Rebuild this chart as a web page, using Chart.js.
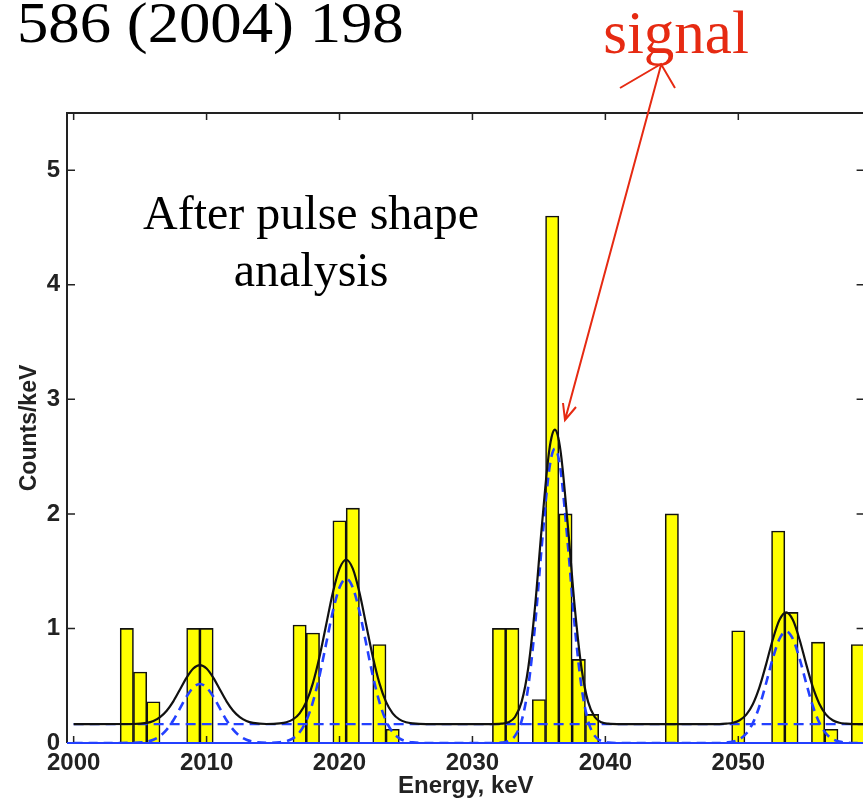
<!DOCTYPE html>
<html>
<head>
<meta charset="utf-8">
<script src="https://cdn.jsdelivr.net/npm/chart.js@4.4.1/dist/chart.umd.min.js"></script>
<style>
  html, body { margin: 0; padding: 0; background: #fff; overflow: hidden; }
  #wrap { position: relative; width: 863px; height: 804px; overflow: hidden; }
  canvas { display: block; }
</style>
</head>
<body>
<div id="wrap"><canvas id="spectrum" width="870" height="804"></canvas></div>
<script>
// histogram, 1 keV bins (centres), counts/keV
const binCenters = [2004, 2005, 2006, 2009, 2010, 2017, 2018, 2020, 2021, 2023, 2024,
  2032, 2033, 2035, 2036, 2037, 2038, 2039, 2045, 2050, 2053, 2054, 2056, 2057, 2059];
const binCounts = [1.0, 0.62, 0.36, 1.0, 1.0, 1.03, 0.96, 1.94, 2.05, 0.86, 0.12,
  1.0, 1.0, 0.38, 4.6, 2.0, 0.73, 0.25, 2.0, 0.98, 1.85, 1.14, 0.88, 0.12, 0.86];

// fit curves
const fitEnergy = [2000, 2004.5, 2005.5, 2006, 2006.5, 2007, 2007.5, 2008, 2008.5, 2009, 2009.5,
  2010, 2010.5, 2011, 2011.5, 2012, 2012.5, 2013, 2013.5, 2014.5, 2015.5, 2016, 2016.5, 2017,
  2017.5, 2018, 2018.5, 2019, 2019.5, 2020, 2020.5, 2021, 2021.5, 2022, 2022.5, 2023, 2023.5,
  2024, 2024.5, 2025, 2025.5, 2026.5, 2031.2, 2032.2, 2032.7, 2033.2, 2033.7, 2034.2, 2034.7,
  2035.2, 2035.7, 2035.95, 2036.2, 2036.45, 2036.7, 2037.2, 2037.7, 2038.2, 2038.7, 2039.2,
  2039.7, 2040.2, 2041.2, 2048.6, 2049.1, 2049.6, 2050.1, 2050.6, 2051.1, 2051.6, 2052.1,
  2052.6, 2053.1, 2053.6, 2054.1, 2054.6, 2055.1, 2055.6, 2056.1, 2056.6, 2057.1, 2057.6,
  2058.1, 2058.6, 2060];
// total fit (black)
const fitTotal = [0.165, 0.166, 0.176, 0.193, 0.226, 0.282, 0.364, 0.467, 0.571, 0.650, 0.680,
  0.650, 0.571, 0.467, 0.364, 0.282, 0.226, 0.193, 0.176, 0.166, 0.171, 0.181, 0.206, 0.259,
  0.359, 0.523, 0.755, 1.035, 1.314, 1.522, 1.600, 1.522, 1.314, 1.035, 0.755, 0.523, 0.359,
  0.259, 0.206, 0.181, 0.171, 0.165, 0.165, 0.169, 0.181, 0.227, 0.359, 0.657, 1.179,
  1.865, 2.483, 2.669, 2.735, 2.669, 2.483, 1.865, 1.179, 0.657, 0.359, 0.227,
  0.181, 0.169, 0.165, 0.165, 0.169, 0.177, 0.199, 0.248, 0.341, 0.490, 0.691,
  0.906, 1.075, 1.140, 1.075, 0.906, 0.691, 0.490, 0.341, 0.248, 0.199, 0.177,
  0.169, 0.165, 0.165];
// single peaks without background (blue dashed)
const fitPeaks = [0, 0.001, 0.011, 0.028, 0.061, 0.117, 0.199, 0.302, 0.406, 0.485, 0.515,
  0.485, 0.406, 0.302, 0.199, 0.117, 0.061, 0.028, 0.011, 0.001, 0.006, 0.016, 0.041, 0.094,
  0.194, 0.358, 0.590, 0.870, 1.149, 1.357, 1.435, 1.357, 1.149, 0.870, 0.590, 0.358, 0.194,
  0.094, 0.041, 0.016, 0.006, 0, 0, 0.004, 0.016, 0.062, 0.194, 0.492, 1.014,
  1.700, 2.318, 2.504, 2.570, 2.504, 2.318, 1.700, 1.014, 0.492, 0.194, 0.062,
  0.016, 0.004, 0, 0, 0.004, 0.012, 0.034, 0.083, 0.176, 0.325, 0.526,
  0.741, 0.910, 0.975, 0.910, 0.741, 0.526, 0.325, 0.176, 0.083, 0.034, 0.012,
  0.004, 0, 0];
// flat background (blue dashed)
const bgEnergy = [2000, 2060];
const bgLevel = [0.165, 0.165];

const xTicks = [2000, 2010, 2020, 2030, 2040, 2050];
const yTicks = [0, 1, 2, 3, 4, 5];

const tickFont = { family: "'Liberation Sans', Arial, sans-serif", size: 24, weight: 'bold' };
const serif = "'Liberation Serif', 'Times New Roman', serif";
const red = '#e62a12';

const toPoints = (xs, ys) => xs.map((x, i) => ({ x: x, y: ys[i] }));

// box with inward ticks + the text / arrow annotations
const frameAndNotes = {
  id: 'frameAndNotes',
  afterDatasetsDraw(chart) {
    const { ctx, chartArea: a, scales: { x, y } } = chart;
    ctx.save();
    ctx.strokeStyle = '#222';
    ctx.lineWidth = 1.5;
    ctx.beginPath();
    xTicks.forEach(v => {
      const px = x.getPixelForValue(v);
      ctx.moveTo(px, a.bottom); ctx.lineTo(px, a.bottom - 7);
      ctx.moveTo(px, a.top); ctx.lineTo(px, a.top + 7);
    });
    yTicks.forEach(v => {
      const py = y.getPixelForValue(v);
      ctx.moveTo(a.left, py); ctx.lineTo(a.left + 8, py);
      ctx.moveTo(a.right, py); ctx.lineTo(a.right - 8, py);
    });
    ctx.stroke();

    ctx.lineWidth = 2;
    ctx.beginPath();
    ctx.moveTo(a.left, a.bottom); ctx.lineTo(a.left, a.top);
    ctx.lineTo(a.right, a.top); ctx.lineTo(a.right, a.bottom);
    ctx.stroke();
    ctx.strokeStyle = '#2340ff';
    ctx.beginPath();
    ctx.moveTo(a.left, a.bottom); ctx.lineTo(a.right, a.bottom);
    ctx.stroke();

    // texts
    ctx.fillStyle = '#000';
    ctx.textBaseline = 'alphabetic';
    ctx.textAlign = 'left';
    ctx.save();
    ctx.translate(17, 42);
    ctx.scale(1.12, 1);
    ctx.font = '56px ' + serif;
    ctx.fillText('586 (2004) 198', 0, 0);
    ctx.restore();
    ctx.textAlign = 'center';
    ctx.font = '48px ' + serif;
    ctx.fillText('After pulse shape', 311, 229);
    ctx.fillText('analysis', 311, 286);
    ctx.fillStyle = red;
    ctx.font = '61px ' + serif;
    ctx.fillText('signal', 676, 53);

    // arrow
    ctx.strokeStyle = red;
    ctx.lineWidth = 2;
    ctx.beginPath();
    ctx.moveTo(661, 65); ctx.lineTo(565, 420);
    ctx.moveTo(620, 88); ctx.lineTo(661, 64); ctx.lineTo(675, 88);
    ctx.moveTo(563, 403); ctx.lineTo(565, 420); ctx.lineTo(576, 407);
    ctx.stroke();
    ctx.restore();
  }
};

new Chart(document.getElementById('spectrum'), {
  type: 'bar',
  data: {
    datasets: [
      {
        type: 'line',
        data: toPoints(fitEnergy, fitTotal),
        borderColor: '#111',
        borderWidth: 2.2,
        pointRadius: 0,
        cubicInterpolationMode: 'monotone',
        order: 0
      },
      {
        type: 'line',
        data: toPoints(bgEnergy, bgLevel),
        borderColor: '#2340ff',
        borderWidth: 2.2,
        borderDash: [10, 6],
        pointRadius: 0,
        order: 1
      },
      {
        type: 'line',
        data: toPoints(fitEnergy, fitPeaks),
        borderColor: '#2340ff',
        borderWidth: 2.6,
        borderDash: [9, 6],
        pointRadius: 0,
        cubicInterpolationMode: 'monotone',
        order: 2
      },
      {
        type: 'bar',
        data: toPoints(binCenters, binCounts),
        backgroundColor: '#ffff00',
        borderColor: '#111',
        borderWidth: 1.6,
        barPercentage: 1,
        categoryPercentage: 1,
        order: 3
      }
    ]
  },
  options: {
    responsive: false,
    animation: false,
    layout: { padding: { top: 113, right: 5.4, left: 0, bottom: 0 } },
    plugins: { legend: { display: false }, tooltip: { enabled: false } },
    scales: {
      x: {
        type: 'linear',
        offset: false,
        min: 1999.5,
        max: 2059.5,
        afterBuildTicks: s => { s.ticks = xTicks.map(v => ({ value: v })); },
        afterFit: s => { s.height = 61; },
        grid: { display: false, drawTicks: false },
        border: { display: false },
        ticks: {
          autoSkip: false, maxRotation: 0,
          font: tickFont, color: '#222', padding: 6,
          callback: v => String(v)
        },
        title: {
          display: true, text: 'Energy, keV', color: '#222',
          font: { family: tickFont.family, size: 24, weight: 'bold' },
          padding: { top: 0, bottom: 3 }
        }
      },
      y: {
        min: 0,
        max: 5.5,
        afterBuildTicks: s => { s.ticks = yTicks.map(v => ({ value: v })); },
        afterFit: s => { s.width = 67; },
        grid: { display: false, drawTicks: false },
        border: { display: false },
        ticks: {
          font: tickFont, color: '#222', padding: 7,
          callback: v => String(v)
        },
        title: {
          display: true, text: 'Counts/keV', color: '#222',
          font: { family: tickFont.family, size: 23, weight: 'bold' },
          padding: { top: 16, bottom: 0 }
        }
      }
    }
  },
  plugins: [frameAndNotes]
});
</script>
</body>
</html>
